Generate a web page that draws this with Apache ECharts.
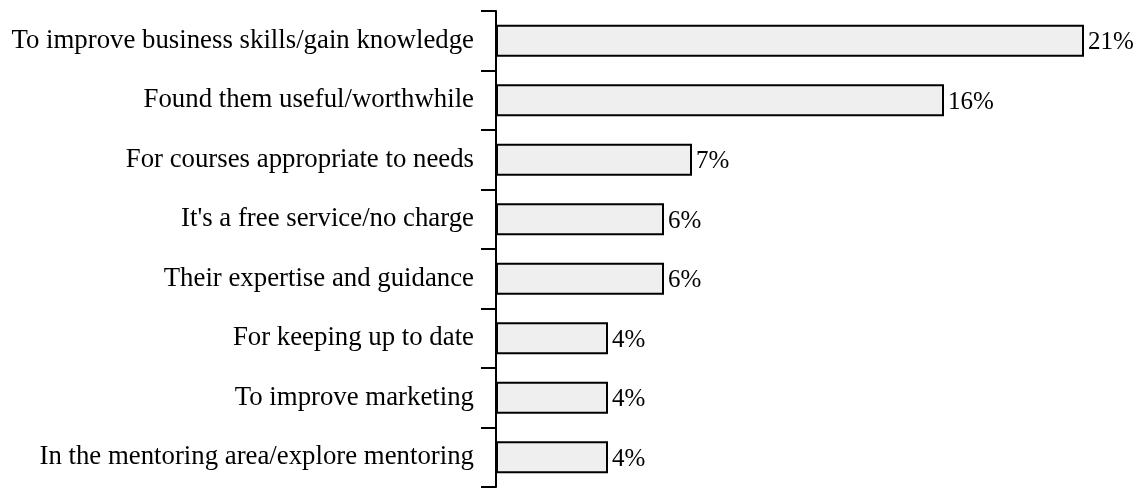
<!DOCTYPE html>
<html>
<head>
<meta charset="utf-8">
<script src="https://cdn.jsdelivr.net/npm/echarts@6/dist/echarts.min.js"></script>
<style>
  html, body { margin: 0; padding: 0; background: #fff; }
  #chart { width: 1139px; height: 488px; }
</style>
</head>
<body>
<div id="chart"></div>
<script>
// Reasons given, top to bottom
const categories = [
  "To improve business skills/gain knowledge",
  "Found them useful/worthwhile",
  "For courses appropriate to needs",
  "It's a free service/no charge",
  "Their expertise and guidance",
  "For keeping up to date",
  "To improve marketing",
  "In the mentoring area/explore mentoring"
];
// Share of respondents (%)
const shares = [21, 16, 7, 6, 6, 4, 4, 4];

const chart = echarts.init(document.getElementById('chart'), null, { renderer: 'canvas' });
const font = '"Liberation Serif", "Times New Roman", serif';

chart.setOption({
  animation: false,
  grid: { left: 496, top: 11, bottom: 1, width: 588 },
  xAxis: {
    type: 'value',
    min: 0,
    max: 21,
    show: false
  },
  yAxis: {
    type: 'category',
    data: categories,
    inverse: true,
    axisLine: { show: true, lineStyle: { color: '#000', width: 2 } },
    axisTick: { show: true, length: 15, lineStyle: { color: '#000', width: 2 } },
    axisLabel: { color: '#000', fontFamily: font, fontSize: 26.8, margin: 22 },
    splitLine: { show: false }
  },
  series: [{
    type: 'bar',
    data: shares,
    barCategoryGap: '46%',
    itemStyle: { color: '#efefef', borderColor: '#000', borderWidth: 2 },
    label: {
      show: true,
      position: 'right',
      distance: 4,
      offset: [0, 2],
      formatter: p => p.value + '%',
      color: '#000',
      fontFamily: font,
      fontSize: 25
    }
  }]
});
</script>
</body>
</html>
